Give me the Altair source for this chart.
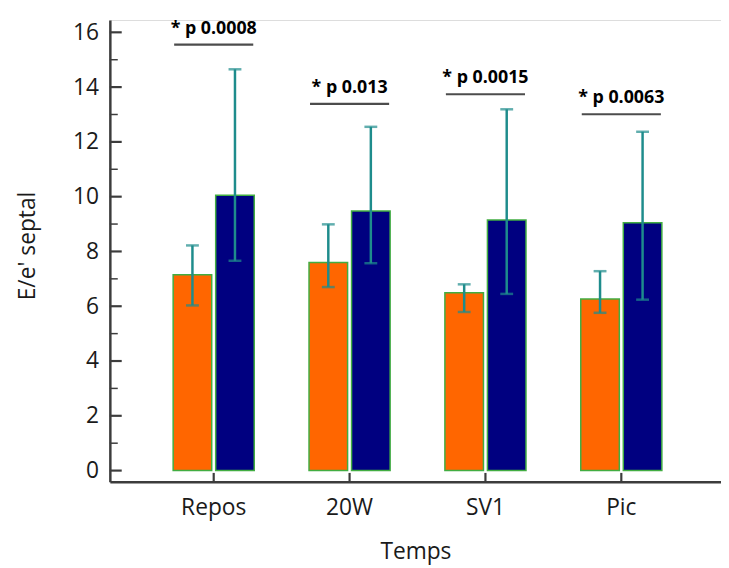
import altair as alt
import pandas as pd

categories = ["Repos", "20W", "SV1", "Pic"]
groups = ["G1", "G2"]
orange_mean = [7.15, 7.60, 6.49, 6.26]
orange_lo = [6.03, 6.70, 5.79, 5.76]
orange_hi = [8.22, 8.99, 6.80, 7.28]
navy_mean = [10.05, 9.48, 9.15, 9.05]
navy_lo = [7.66, 7.57, 6.45, 6.24]
navy_hi = [14.65, 12.55, 13.19, 12.37]
p_labels = ["* p 0.0008", "* p 0.013", "* p 0.0015", "* p 0.0063"]
bracket_level = [15.55, 13.39, 13.74, 13.01]
major_ticks = [0, 2, 4, 6, 8, 10, 12, 14, 16]
minor_ticks = [1, 3, 5, 7, 9, 11, 13, 15]

W, H = 618, 467
AXIS_COLOR = "#3c3c3c"
TEAL = "#1e8c8c"
FONT = "Open Sans"

rows = []
for i, c in enumerate(categories):
    rows.append({"cat": c, "grp": groups[0], "mean": orange_mean[i], "lo": orange_lo[i], "hi": orange_hi[i]})
    rows.append({"cat": c, "grp": groups[1], "mean": navy_mean[i], "lo": navy_lo[i], "hi": navy_hi[i]})
df = pd.DataFrame(rows)
ann = pd.DataFrame({"cat": categories, "label": p_labels, "level": bracket_level})
maj = pd.DataFrame({"v": major_ticks})
mnr = pd.DataFrame({"v": minor_ticks})
cats = pd.DataFrame({"cat": categories})

xscale = alt.Scale(domain=categories, paddingInner=0.403, paddingOuter=0.4505, align=0.517)
xoscale = alt.Scale(domain=groups, paddingInner=0.093, paddingOuter=0)
yscale = alt.Scale(domain=[-0.41, 16.45], nice=False, zero=False)

xaxis = alt.Axis(title="Temps", labelAngle=0, ticks=False, tickSize=0, domainColor=AXIS_COLOR,
                 domainWidth=2.5, labelFont=FONT, labelFontSize=23, labelColor="#1a1a1a",
                 labelPadding=15, titleFont=FONT, titleFontSize=23, titleFontWeight="normal",
                 titleColor="#1a1a1a", titleBaseline="alphabetic", titleY=78, grid=False)
yaxis = alt.Axis(title="E/e' septal", values=major_ticks, ticks=False, tickSize=0,
                 domainColor=AXIS_COLOR, domainWidth=2.5, labelFont=FONT, labelFontSize=23,
                 labelColor="#1a1a1a", labelPadding=11.5, titleFont=FONT, titleFontSize=23,
                 titleFontWeight="normal", titleColor="#1a1a1a", titleBaseline="alphabetic",
                 titleX=-76, titleY=228, titleAngle=270, grid=False)

X = alt.X("cat:N", scale=xscale, axis=xaxis, sort=categories)
XO = alt.XOffset("grp:N", scale=xoscale, sort=groups)


def Y(field):
    return alt.Y(field, type="quantitative", scale=yscale, axis=yaxis)


bars = alt.Chart(df).mark_bar(stroke="#42ad42", strokeWidth=1.5).encode(
    x=X, xOffset=XO, y=Y("mean"),
    color=alt.Color("grp:N", scale=alt.Scale(domain=groups, range=["#FF6600", "#000080"]), legend=None),
)
err = alt.Chart(df).mark_rule(color=TEAL, strokeWidth=2.5).encode(
    x=X, xOffset=XO, y=Y("lo"), y2="hi"
)
cap_hi = alt.Chart(df).mark_tick(color=TEAL, thickness=2.5, size=13, orient="horizontal").encode(
    x=X, xOffset=XO, y=Y("hi")
)
cap_lo = alt.Chart(df).mark_tick(color=TEAL, thickness=2.5, size=13, orient="horizontal").encode(
    x=X, xOffset=XO, y=Y("lo")
)
brackets = alt.Chart(ann).mark_tick(color="black", thickness=2.2, size=80, orient="horizontal").encode(
    x=X, y=Y("level")
)
texts = alt.Chart(ann).mark_text(dy=-11, baseline="alphabetic", fontWeight="bold", fontSize=18,
                                 font=FONT, color="black").encode(
    x=X, y=Y("level"), text="label:N"
)
ytick_major = alt.Chart(maj).mark_rule(color=AXIS_COLOR, strokeWidth=2.2).encode(
    y=Y("v"), x=alt.value(0), x2=alt.value(12)
)
ytick_minor = alt.Chart(mnr).mark_rule(color=AXIS_COLOR, strokeWidth=1.5).encode(
    y=Y("v"), x=alt.value(0), x2=alt.value(8)
)
xticks = alt.Chart(cats).mark_rule(color=AXIS_COLOR, strokeWidth=2.2).encode(
    x=X, y=alt.value(H - 9), y2=alt.value(H)
)

chart = alt.layer(
    bars, err, cap_hi, cap_lo, brackets, texts, ytick_major, ytick_minor, xticks
).properties(
    width=W, height=H,
    padding={"left": 103, "top": 9, "right": 0, "bottom": 82},
    autosize=alt.AutoSizeParams(type="none"),
).configure_view(stroke=None).configure(background="white")

chart.save("out.html", embed_options={"renderer": "svg", "actions": False})
